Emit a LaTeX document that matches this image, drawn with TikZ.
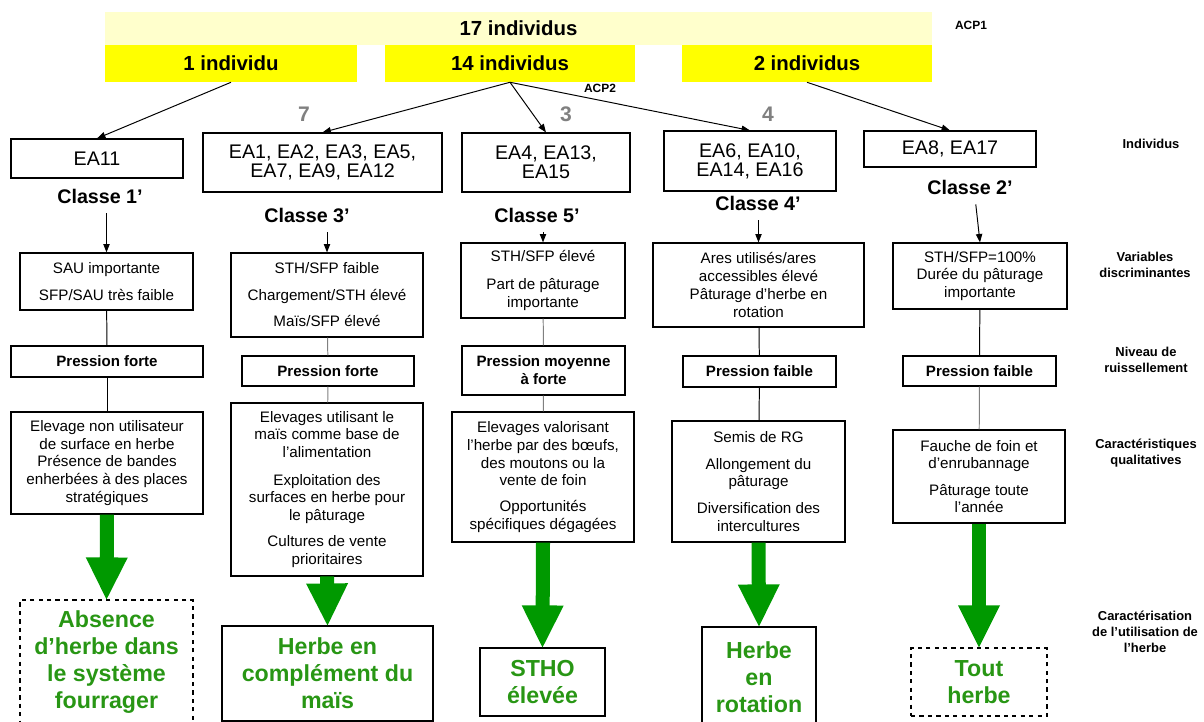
\documentclass[tikz,border=0pt]{standalone}
\usepackage{fontspec}
\setmainfont{Liberation Sans}
\usetikzlibrary{arrows.meta}
\newlength\pxl
\setlength\pxl{0.025cm}
\definecolor{paleyellow}{RGB}{255,255,204}
\definecolor{headyellow}{RGB}{255,255,0}
\definecolor{arrowgreen}{RGB}{0,153,0}
\definecolor{textgreen}{RGB}{40,150,20}
\begin{document}
\begin{tikzpicture}[x=0.025cm, y=-0.025cm,
		head/.style={fill=headyellow, inner sep=0pt, font=\fontsize{14.5}{16}\selectfont\bfseries},
		acp/.style={inner sep=0pt, font=\fontsize{8.5}{10}\selectfont\bfseries},
		num/.style={inner sep=0pt, text=gray, font=\fontsize{15}{16}\selectfont\bfseries},
		box/.style={draw, line width=0.8pt, inner sep=0pt, align=center, font=\fontsize{10.8}{12.6}\selectfont},
		eabox/.style={box, font=\fontsize{14}{13.5}\selectfont},
		prbox/.style={box, font=\fontsize{10.7}{12.8}\selectfont\bfseries},
		result/.style={box, text=textgreen, font=\fontsize{16.5}{19.2}\selectfont\bfseries},
		classe/.style={inner sep=2pt, font=\fontsize{14}{16}\selectfont\bfseries},
		side/.style={inner sep=0pt, align=center, font=\fontsize{9.2}{11.4}\selectfont\bfseries},
		thinarrow/.style={line width=0.7pt, -{Triangle[length=6pt, width=4.5pt]}},
		classarrow/.style={thinarrow, shorten <=5pt},
		link/.style={line width=0.7pt},
		greylink/.style={link, gray},
		bigarrow/.style={arrowgreen, line width=0.35cm, line cap=rect, shorten <=0.175cm,
			-{Triangle[length=1.05cm, width=1.05cm, line width=0pt]}}]
	\useasboundingbox (0,0) rectangle (1204,722);

	\node[head, fill=paleyellow, minimum width=827\pxl, minimum height=33\pxl] (all) at (518.5,28.5) {17 individus};
	\node[head, minimum width=252\pxl, minimum height=37\pxl] (ind1) at (231,63.5) {1 individu};
	\node[head, minimum width=250\pxl, minimum height=37\pxl] (ind14) at (510,63.5) {14 individus};
	\node[head, minimum width=250\pxl, minimum height=37\pxl] (ind2) at (807,63.5) {2 individus};
	\node[acp] (acp1) at (971,25) {ACP1};
	\node[acp] (acp2) at (600,88) {ACP2};

	\node[num] (n7) at (304,114) {7};
	\node[num] (n3) at (566,114) {3};
	\node[num] (n4) at (768,114) {4};

	\node[eabox, minimum width=172\pxl, minimum height=39\pxl] (ea11) at (97,158.5) {EA11};
	\node[eabox, minimum width=239\pxl, minimum height=59\pxl] (ea1) at (322.5,162.5) {EA1, EA2, EA3, EA5,\\EA7, EA9, EA12};
	\node[eabox, minimum width=168\pxl, minimum height=59\pxl] (ea4) at (546,162.5) {EA4, EA13,\\EA15};
	\node[eabox, minimum width=172\pxl, minimum height=60\pxl] (ea6) at (750,161) {EA6, EA10,\\EA14, EA16};
	\node[eabox, minimum width=172\pxl, minimum height=36\pxl] (ea8) at (950,149) {EA8, EA17};

	\draw[thinarrow] (ind1.south) -- (ea11.north);
	\draw[thinarrow] (ind14.south) -- (ea1.north);
	\draw[thinarrow] (ind14.south) -- (ea4.north);
	\draw[thinarrow] (ind14.south) -- (ea6.north);
	\draw[thinarrow] (ind2.south) -- (ea8.north);

	\node[classe] (cl1) at (100,196) {Classe 1’};
	\node[classe] (cl3) at (307,215) {Classe 3’};
	\node[classe] (cl5) at (537,215) {Classe 5’};
	\node[classe] (cl4) at (758,203) {Classe 4’};
	\node[classe] (cl2) at (970,187) {Classe 2’};

	\node[box, minimum width=173\pxl, minimum height=57\pxl] (var1) at (106.5,281.5) {SAU importante\\[6.5pt]SFP/SAU très faible};
	\node[box, minimum width=192\pxl, minimum height=84\pxl] (var3) at (327,295) {STH/SFP faible\\[6.2pt]Chargement/STH élevé\\[6.2pt]Maïs/SFP élevé};
	\node[box, minimum width=164\pxl, minimum height=75\pxl] (var5) at (543,280.5) {STH/SFP élevé\\[7pt]Part de pâturage\\importante};
	\node[box, minimum width=211\pxl, minimum height=84\pxl] (var4) at (758.5,285) {Ares utilisés/ares\\accessibles élevé\\Pâturage d’herbe en\\rotation};
	\node[box, minimum width=174\pxl, minimum height=66\pxl] (var2) at (980,276) {STH/SFP=100\%\\Durée du pâturage\\importante};

	\draw[classarrow] (cl1.south -| var1.north) -- (var1.north);
	\draw[classarrow] (cl3.south -| var3.north) -- (var3.north);
	\draw[classarrow] (cl5.south -| var5.north) -- (var5.north);
	\draw[classarrow] (cl4.south -| var4.north) -- (var4.north);
	\draw[classarrow] ([xshift=5\pxl]cl2.south) -- (var2.north);

	\node[prbox, minimum width=192\pxl, minimum height=31\pxl] (pr1) at (107,361.5) {Pression forte};
	\node[prbox, minimum width=172\pxl, minimum height=30\pxl] (pr3) at (328,371) {Pression forte};
	\node[prbox, minimum width=163\pxl, minimum height=49\pxl] (pr5) at (543.5,370.5) {Pression moyenne\\à forte};
	\node[prbox, minimum width=153\pxl, minimum height=31\pxl] (pr4) at (759.5,371.5) {Pression faible};
	\node[prbox, minimum width=153\pxl, minimum height=30\pxl] (pr2) at (979.5,371) {Pression faible};

	\node[box, minimum width=192\pxl, minimum height=102\pxl] (qu1) at (107,463) {Elevage non utilisateur\\de surface en herbe\\Présence de bandes\\enherbées à des places\\stratégiques};
	\node[box, minimum width=192\pxl, minimum height=173\pxl] (qu3) at (327,489.5) {Elevages utilisant le\\maïs comme base de\\l’alimentation\\[7pt]Exploitation des\\surfaces en herbe pour\\le pâturage\\[6pt]Cultures de vente\\prioritaires};
	\node[box, minimum width=182\pxl, minimum height=130\pxl] (qu5) at (543,477) {Elevages valorisant\\l’herbe par des bœufs,\\des moutons ou la\\vente de foin\\[5.5pt]Opportunités\\spécifiques dégagées};
	\node[box, minimum width=173\pxl, minimum height=121\pxl] (qu4) at (758.5,481.5) {Semis de RG\\[6.5pt]Allongement du\\pâturage\\[6.5pt]Diversification des\\intercultures};
	\node[box, minimum width=172\pxl, minimum height=93\pxl] (qu2) at (979,476.5) {Fauche de foin et\\d’enrubannage\\[6pt]Pâturage toute\\l’année};

	\draw[link] (var1) -- (pr1);
	\draw[link] (pr1) -- (qu1);
	\draw[greylink] (var3) -- (pr3);
	\draw[greylink] (pr3) -- (qu3);
	\draw[greylink] (var5) -- (pr5);
	\draw[greylink] (pr5) -- (qu5);
	\draw[link] (var4) -- (pr4);
	\draw[link] (pr4) -- (qu4);
	\draw[link] (var2) -- (pr2);
	\draw[greylink] (pr2) -- (qu2);

	\node[result, dashed, minimum width=173\pxl, minimum height=124\pxl] (re1) at (106.5,662) {Absence\\d’herbe dans\\le système\\fourrager};
	\node[result, minimum width=211\pxl, minimum height=95\pxl] (re3) at (327.5,673.5) {Herbe en\\complément du\\maïs};
	\node[result, minimum width=125\pxl, minimum height=68\pxl] (re5) at (542.5,682) {STHO\\élevée};
	\node[result, minimum width=114\pxl, minimum height=101\pxl] (re4) at (759,677.5) {Herbe\\en\\rotation};
	\node[result, dashed, minimum width=136\pxl, minimum height=68\pxl] (re2) at (979,682) {Tout\\herbe};

	\draw[bigarrow] (qu1.south) -- (re1.north);
	\draw[bigarrow] (qu3.south) -- (re3.north);
	\draw[bigarrow] (qu5.south) -- (re5.north);
	\draw[bigarrow] (qu4.south) -- (re4.north);
	\draw[bigarrow] (qu2.south) -- (re2.north);

	\node[side] (lab1) at (1151,144) {Individus};
	\node[side] (lab2) at (1145,265) {Variables\\discriminantes};
	\node[side] (lab3) at (1146,360) {Niveau de\\ruissellement};
	\node[side] (lab4) at (1146,453) {Caractéristiques\\qualitatives};
	\node[side] (lab5) at (1145,632) {Caractérisation\\de l’utilisation de\\l’herbe};
\end{tikzpicture}
\end{document}
